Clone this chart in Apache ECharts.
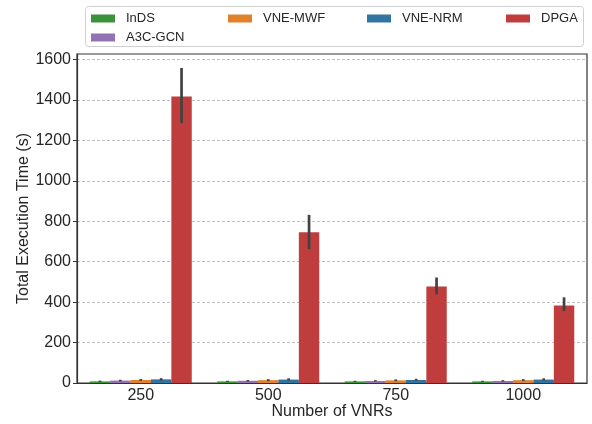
<!DOCTYPE html>
<html>
<head>
<meta charset="utf-8">
<script src="https://cdn.jsdelivr.net/npm/echarts@6/dist/echarts.min.js"></script>
<style>html,body{margin:0;padding:0;background:#fff}#c{width:592px;height:424px}</style>
</head>
<body>
<div id="c"></div>
<script>
const categories = ['250', '500', '750', '1000'];
const seriesNames = ['InDS', 'A3C-GCN', 'VNE-MWF', 'VNE-NRM', 'DPGA'];
const indsValues = [8, 8, 8, 8];
const a3cValues = [12, 11, 10, 10];
const mwfValues = [15, 14, 13, 14];
const nrmValues = [18, 17, 15, 17];
const dpgaValues = [1418, 746, 478, 384];
const indsErr = [[5, 12], [5, 11], [5, 11], [5, 11]];
const a3cErr = [[8, 16], [8, 15], [7, 14], [7, 14]];
const mwfErr = [[11, 20], [10, 19], [9, 18], [10, 19]];
const nrmErr = [[13, 24], [12, 23], [11, 21], [12, 23]];
const dpgaErr = [[1286, 1559], [662, 832], [438, 522], [356, 424]];
const yTicks = [0, 200, 400, 600, 800, 1000, 1200, 1400, 1600];

const colors = ['#3a923a', '#9372b2', '#e1812c', '#3274a1', '#c03d3e'];
const values = [indsValues, a3cValues, mwfValues, nrmValues, dpgaValues];
const errs = [indsErr, a3cErr, mwfErr, nrmErr, dpgaErr];
const FONT = 'Liberation Sans, Arial, sans-serif';

const series = [];
values.forEach((v, i) => {
  series.push({
    name: seriesNames[i], type: 'bar', data: v,
    itemStyle: { color: colors[i] },
    barGap: '0%', barCategoryGap: '20%', z: 2
  });
});
errs.forEach((e, i) => {
  series.push({
    type: 'custom', name: 'err' + i, z: 5, silent: true,
    data: e.map((r, k) => [k, r[0], r[1]]),
    encode: { x: 0, y: [1, 2] },
    renderItem: function (params, api) {
      const cat = api.value(0);
      const band = api.size([1, 0])[0];
      const lo = api.coord([cat, api.value(1)]);
      const hi = api.coord([cat, api.value(2)]);
      const x = lo[0] + (i - 2) * band * 0.16;
      return {
        type: 'line',
        shape: { x1: x, y1: lo[1], x2: x, y2: hi[1] },
        style: { stroke: '#424242', lineWidth: 2.7 }
      };
    }
  });
});

const legendPos = [
  { left: 91, top: 12 },
  { left: 91, top: 31 },
  { left: 228, top: 12 },
  { left: 367, top: 12 },
  { left: 506, top: 12 }
];
const legends = seriesNames.map((n, i) => ({
  data: [n], left: legendPos[i].left, top: legendPos[i].top,
  itemWidth: 24, itemHeight: 8, itemGap: 0, icon: 'rect',
  selectedMode: false,
  textStyle: { fontFamily: FONT, fontSize: 13, color: '#262626', padding: [0, 0, 0, 6] },
  padding: 0
}));

const chart = echarts.init(document.getElementById('c'), null, { renderer: 'canvas' });
chart.setOption({
  animation: false,
  backgroundColor: '#fff',
  legend: legends,
  graphic: [{
    type: 'rect', left: 85, top: 6, z: -1,
    shape: { width: 498, height: 40, r: 3 },
    style: { fill: '#fff', stroke: '#d0d0d0', lineWidth: 1 }
  }],
  grid: {
    left: 77, right: 5, top: 54, bottom: 41,
    outerBoundsMode: 'none', containLabel: false,
    show: true, borderColor: '#333', borderWidth: 1.2, backgroundColor: 'transparent'
  },
  xAxis: {
    type: 'category', data: categories,
    name: 'Number of VNRs', nameLocation: 'middle', nameGap: 21, nameMoveOverlap: false,
    nameTextStyle: { fontFamily: FONT, fontSize: 16, color: '#262626' },
    axisLine: { lineStyle: { color: '#333', width: 1.2 } },
    axisTick: { alignWithLabel: true, length: 4, lineStyle: { color: '#333' } },
    axisLabel: { fontFamily: FONT, fontSize: 16, color: '#262626', margin: 5 },
    splitLine: { show: false }
  },
  yAxis: {
    type: 'value', min: 0, max: 1628, interval: 200,
    name: 'Total Execution Time (s)', nameLocation: 'middle', nameGap: 45, nameMoveOverlap: false,
    nameTextStyle: { fontFamily: FONT, fontSize: 16, color: '#262626' },
    axisLine: { show: true, lineStyle: { color: '#333', width: 1.2 } },
    axisTick: { show: true, length: 4, lineStyle: { color: '#333' }, customValues: yTicks },
    axisLabel: { fontFamily: FONT, fontSize: 16, color: '#262626', margin: 6, customValues: yTicks,
      formatter: function (v) { return String(v); } },
    splitLine: { show: true, lineStyle: { color: '#b0b0b0', type: [3, 2], width: 0.8 } }
  },
  series: series
});
</script>
</body>
</html>
